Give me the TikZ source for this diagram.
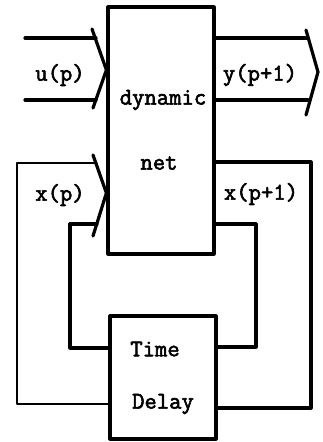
\documentclass[tikz,border=0pt]{standalone}
\usepackage{fontspec}
\newfontfamily\lbfont{Latin Modern Mono}[FakeBold=2.5]
\begin{document}
\begin{tikzpicture}[x=1pt,y=-1pt,line width=3.2pt,line join=round,line cap=round,
  lbl/.style={font=\lbfont\fontsize{24}{26}\selectfont,inner sep=0pt},
  box/.style={draw,inner sep=0pt},
  thinline/.style={line width=2.8pt}]
\useasboundingbox (0,0) rectangle (322,442);
% boxes
\node[box,minimum width=106pt,minimum height=247pt] (net) at (161,130.5) {};
\node[box,minimum width=106pt,minimum height=123pt] (delay) at (163,377.5) {};
% box texts
\node[lbl] (tdyn) at (163,100) {dynamic};
\node[lbl] (tnet) at (159,163) {net};
\node[lbl] (ttime) at (155,349) {Time};
\node[lbl] (tdelay) at (163,404) {Delay};
% signal labels
\node[lbl] (lu) at (60,75) {u(p)};
\node[lbl] (ly) at (260,75) {y(p+1)};
\node[lbl] (lx) at (60,195) {x(p)};
\node[lbl] (lx1) at (261,194) {x(p+1)};
% coordinates
\coordinate (u1) at (25,38);  \coordinate (u1e) at (96,38);
\coordinate (u2) at (25,100); \coordinate (u2e) at (96,100);
\coordinate (uc1) at (92,29); \coordinate (uca) at (net.west |- {(0,70)}); \coordinate (uc2) at (93,108);
\coordinate (y1) at (net.east |- {(0,38)});  \coordinate (y1e) at (308,38);
\coordinate (y2) at (net.east |- {(0,100)}); \coordinate (y2e) at (308,100);
\coordinate (yc1) at (306,30); \coordinate (yca) at (318,72); \coordinate (yc2) at (306,115);
\coordinate (xc1) at (93,155); \coordinate (xca) at (net.west |- {(0,193)}); \coordinate (xc2) at (93,236);
\coordinate (x1e) at (96,163); \coordinate (x2e) at (97,224);
\coordinate (dl1) at (delay.west |- {(0,404)}); \coordinate (dl2) at (delay.west |- {(0,348)});
\coordinate (xo1) at (net.east |- {(0,162)}); \coordinate (xo2) at (net.east |- {(0,224)});
\coordinate (dr1) at (delay.east |- {(0,408)}); \coordinate (dr2) at (delay.east |- {(0,347)});
% input u(p)
\draw (u1) -- (u1e);
\draw (u2) -- (u2e);
\draw (uc1) -- (uca) -- (uc2);
% output y(p+1)
\draw (y1) -- (y1e);
\draw (y2) -- (y2e);
\draw (yc1) -- (yca) -- (yc2);
% feedback into x(p)
\draw[thinline] (dl1) -- (17,404) -- (17,163) -- (x1e);
\draw (dl2) -- (70,348) -- (70,224) -- (x2e);
\draw (xc1) -- (xca) -- (xc2);
% x(p+1) out to delay
\draw (xo1) -- (311,162) -- (311,408) -- (dr1);
\draw (xo2) -- (256,224) -- (256,347) -- (dr2);
\end{tikzpicture}
\end{document}
